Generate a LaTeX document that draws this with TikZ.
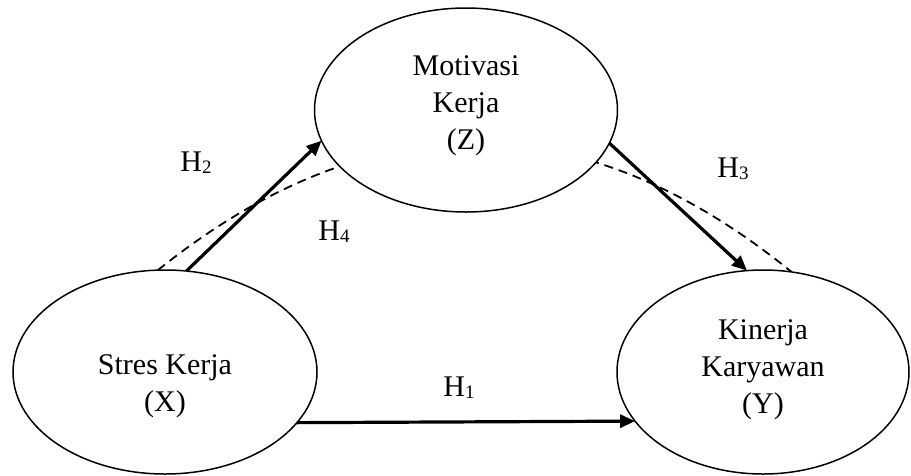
\documentclass[tikz,border=0pt]{standalone}
\usepackage{fontspec}
\setmainfont{Liberation Serif}
\usetikzlibrary{shapes.geometric,arrows.meta,backgrounds}
\newcommand{\hsub}[1]{\raisebox{-2pt}{\fontsize{19}{19}\selectfont #1}}
\begin{document}
\begin{tikzpicture}[x=1pt,y=-1pt,
  var/.style={ellipse,draw,line width=1.5pt,fill=white,inner sep=0pt,outer sep=0pt},
  vartext/.style={font=\fontsize{30}{37}\selectfont,align=center},
  hlabel/.style={font=\fontsize{30}{35}\selectfont},
  direct/.style={line width=3.2pt,-{Triangle[length=15pt,width=13pt]}},
  indirect/.style={line width=1.8pt,dash pattern=on 9pt off 6pt}]
\useasboundingbox (0,0) rectangle (911,475);
\node[var,minimum width=303pt,minimum height=204pt] (Z) at (466,110) {};
\node[var,minimum width=304pt,minimum height=204pt] (X) at (165,372) {};
\node[var,minimum width=292pt,minimum height=204pt] (Y) at (763,372) {};
\node[vartext] (Zt) at (466,106) {Motivasi\\Kerja\\(Z)};
\node[vartext] (Xt) at (165,386) {Stres Kerja\\(X)};
\node[vartext] (Yt) at (763,370) {Kinerja\\Karyawan\\(Y)};
\begin{scope}[on background layer]
\draw[indirect] (X.94) .. controls (369,101) and (581,101) .. (Y.74);
\end{scope}
\draw[direct] (X.78) -- (Z.192);
\draw[direct] (Z.347) -- (Y.99);
\draw[direct] (X.339) -- (Y.201);
\node[hlabel] (H2) at (196,163) {H\hsub{2}};
\node[hlabel] (H4) at (334,232) {H\hsub{4}};
\node[hlabel] (H3) at (733,169) {H\hsub{3}};
\node[hlabel] (H1) at (459,388) {H\hsub{1}};
\end{tikzpicture}
\end{document}
